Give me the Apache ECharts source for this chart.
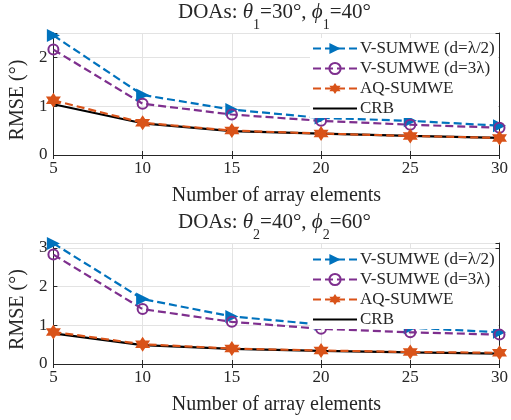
<!DOCTYPE html>
<html>
<head>
<meta charset="utf-8">
<script src="https://cdn.jsdelivr.net/npm/echarts@6/dist/echarts.min.js"></script>
<style>
html,body{margin:0;padding:0;background:#fff;}
#chart{width:511px;height:420px;}
</style>
</head>
<body>
<div id="chart"></div>
<script>
// Number of array elements
const elements = [5, 10, 15, 20, 25, 30];
const xTicks = [5, 10, 15, 20, 25, 30];

// Source 1: theta1=30°, phi1=40°
const vHalf1 = [2.45, 1.23, 0.93, 0.76, 0.70, 0.60];
const v3L1   = [2.16, 1.05, 0.83, 0.70, 0.62, 0.56];
const aq1    = [1.12, 0.66, 0.50, 0.44, 0.39, 0.35];
const crb1   = [1.04, 0.65, 0.49, 0.44, 0.39, 0.35];

// Source 2: theta2=40°, phi2=60°
const vHalf2 = [3.12, 1.68, 1.23, 1.02, 0.94, 0.82];
const v3L2   = [2.83, 1.42, 1.09, 0.91, 0.82, 0.76];
const aq2    = [0.83, 0.51, 0.40, 0.35, 0.31, 0.29];
const crb2   = [0.79, 0.49, 0.39, 0.34, 0.30, 0.27];

const yTicks1 = [0, 1, 2];
const yTicks2 = [0, 1, 2, 3];

const names = ['V-SUMWE (d=λ/2)', 'V-SUMWE (d=3λ)', 'AQ-SUMWE', 'CRB'];

const FONT = "'Liberation Serif', 'Times New Roman', serif";
const TXT = '#262626';
const BLUE = '#0072BD', PURPLE = '#7E2F8E', ORANGE = '#D95319', BLACK = '#000000';
const HEX = 'path://M0,-10L2.887,-5L8.66,-5L5.774,0L8.66,5L2.887,5L0,10L-2.887,5L-8.66,5L-5.774,0L-8.66,-5L-2.887,-5Z';
const DASH = [8, 4];

const grids = [
  { left: 47, top: 33, width: 454, height: 122 },
  { left: 47, top: 243, width: 454, height: 121 }
];

function pairs(ys) { return elements.map((x, i) => [x, ys[i]]); }

function xAxes(g) {
  const common = { type: 'value', gridIndex: g, min: xTicks[0], max: xTicks[xTicks.length - 1], interval: 5 };
  return [
    Object.assign({}, common, {
      position: 'bottom',
      name: 'Number of array elements', nameLocation: 'middle', nameGap: 31,
      nameTextStyle: { fontFamily: FONT, fontSize: 20, color: TXT },
      axisLine: { show: true, lineStyle: { color: TXT, width: 1 } },
      axisTick: { show: true, inside: true, length: 4, lineStyle: { color: TXT } },
      axisLabel: { fontFamily: FONT, fontSize: 17, color: TXT, margin: 5 },
      splitLine: { show: true, lineStyle: { color: '#e3e3e3', width: 1 } }
    }),
    Object.assign({}, common, {
      position: 'top',
      axisLine: { show: true, lineStyle: { color: TXT, width: 1 } },
      axisTick: { show: true, inside: true, length: 4, lineStyle: { color: TXT } },
      axisLabel: { show: false },
      splitLine: { show: false }
    })
  ];
}

function yAxes(g, max, ticks) {
  const common = { type: 'value', gridIndex: g, min: 0, max: max, interval: 1 };
  return [
    Object.assign({}, common, {
      position: 'left',
      name: 'RMSE (°)', nameLocation: 'middle', nameGap: 11,
      nameTextStyle: { fontFamily: FONT, fontSize: 20, color: TXT, padding: [0, 12, 0, 0] },
      axisLine: { show: true, lineStyle: { color: TXT, width: 1 } },
      axisTick: { show: true, inside: true, length: 4, lineStyle: { color: TXT } },
      axisLabel: {
        fontFamily: FONT, fontSize: 17, color: TXT, margin: 6,
        formatter: v => ticks.indexOf(v) >= 0 ? String(v) : ''
      },
      splitLine: { show: true, lineStyle: { color: '#e3e3e3', width: 1 } }
    }),
    Object.assign({}, common, {
      position: 'right',
      axisLine: { show: true, lineStyle: { color: TXT, width: 1 } },
      axisTick: { show: true, inside: true, length: 4, lineStyle: { color: TXT } },
      axisLabel: { show: false },
      splitLine: { show: false }
    })
  ];
}

function seriesFor(g, vHalf, v3L, aq, crb) {
  const base = { type: 'line', xAxisIndex: g * 2, yAxisIndex: g * 2, animation: false };
  return [
    Object.assign({}, base, {
      name: names[0], data: pairs(vHalf), z: 3,
      symbol: 'triangle', symbolSize: 13, symbolRotate: -90,
      lineStyle: { color: BLUE, width: 2.2, type: DASH },
      itemStyle: { color: BLUE }
    }),
    Object.assign({}, base, {
      name: names[1], data: pairs(v3L), z: 3,
      symbol: 'circle', symbolSize: 10,
      lineStyle: { color: PURPLE, width: 2.2, type: DASH },
      itemStyle: { color: 'rgba(0,0,0,0)', borderColor: PURPLE, borderWidth: 2 }
    }),
    Object.assign({}, base, {
      name: names[2], data: pairs(aq), z: 4,
      symbol: HEX, symbolSize: 15,
      lineStyle: { color: ORANGE, width: 2.2, type: DASH },
      itemStyle: { color: ORANGE }
    }),
    Object.assign({}, base, {
      name: names[3], data: pairs(crb), z: 2,
      symbol: 'circle', showSymbol: false,
      lineStyle: { color: BLACK, width: 2.2, type: 'solid' },
      itemStyle: { color: 'rgba(0,0,0,0)', borderWidth: 0 }
    })
  ];
}

function titleFor(sub, th, ph, top) {
  return {
    text: '{n|DOAs: }{i|θ}{s|' + sub + '}{n|=' + th + '°, }{i|ϕ}{s|' + sub + '}{n|=' + ph + '°}',
    left: 178, top: top, padding: 0,
    textStyle: {
      fontFamily: FONT, fontSize: 21, color: TXT, fontWeight: 'normal',
      rich: {
        n: { fontFamily: FONT, fontSize: 21, color: TXT, lineHeight: 24, verticalAlign: 'top' },
        i: { fontFamily: FONT, fontSize: 21, color: TXT, fontStyle: 'italic', lineHeight: 24, verticalAlign: 'top' },
        s: { fontFamily: FONT, fontSize: 14, color: TXT, lineHeight: 14, verticalAlign: 'top', padding: [16, 0, 0, 0] }
      }
    }
  };
}

function legendFor(top) {
  return {
    orient: 'vertical', left: 310, top: top,
    data: names.map(n => ({ name: n })),
    itemWidth: 44, itemHeight: 14, itemGap: 3,
    backgroundColor: '#ffffff', padding: [2, 4, 1, 2],
    textStyle: { fontFamily: FONT, fontSize: 17, color: TXT, lineHeight: 14, padding: [0, 0, 0, -2] }
  };
}

const chart = echarts.init(document.getElementById('chart'), null, { renderer: 'canvas' });
const option = {
  animation: false,
  backgroundColor: '#ffffff',
  title: [titleFor('1', 30, 40, 2), titleFor('2', 40, 60, 212)],
  grid: grids,
  xAxis: xAxes(0).concat(xAxes(1)),
  yAxis: yAxes(0, 2.5, yTicks1).concat(yAxes(1, 3.13, yTicks2)),
  legend: [legendFor(38), legendFor(249)],
  series: seriesFor(0, vHalf1, v3L1, aq1, crb1).concat(seriesFor(1, vHalf2, v3L2, aq2, crb2))
};
chart.setOption(option);
</script>
</body>
</html>
